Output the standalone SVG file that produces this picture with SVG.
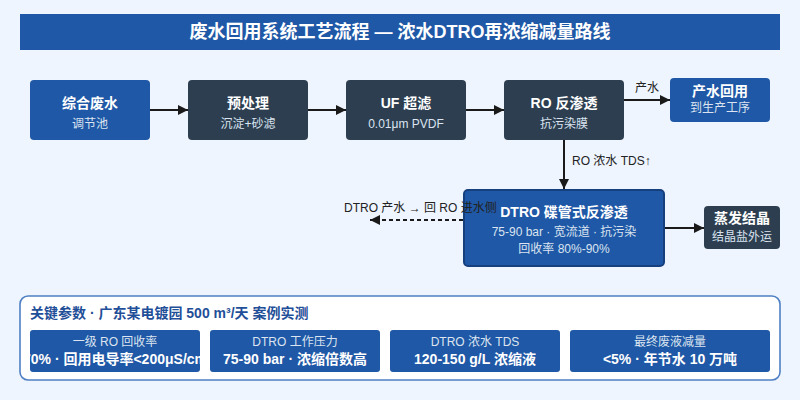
<svg xmlns="http://www.w3.org/2000/svg" width="800" height="400" viewBox="0 0 800 400">
<defs>
<style>
text{font-family:"Liberation Sans","Noto Sans CJK SC",sans-serif}
.blue{fill:#1f58a6}
.dark{fill:#2c3e50}
.t{fill:#fff;font-weight:bold;font-size:14px;text-anchor:middle}
.s{fill:#dbe4f0;font-size:12px;text-anchor:middle}
.lbl{fill:#222;font-size:12px}
.edge{stroke:#1a1a1a;stroke-width:2;fill:none}
</style>
<marker id="ah" viewBox="0 0 10 10" refX="10" refY="5" markerWidth="10" markerHeight="11" markerUnits="userSpaceOnUse" orient="auto">
<path d="M0,0 L10,5 L0,10 Z" fill="#1a1a1a"/>
</marker>
<clipPath id="c1"><rect x="30" y="330" width="170" height="42" rx="3"/></clipPath>
</defs>
<rect width="800" height="400" fill="#eef5fe"/>
<g id="title">
<rect x="20" y="14" width="760" height="36" fill="#1f58a6"/>
<text x="400" y="38" fill="#fff" font-size="18" font-weight="bold" text-anchor="middle">废水回用系统工艺流程 — 浓水DTRO再浓缩减量路线</text>
</g>
<g id="connectors">
<line class="edge" x1="150" y1="110" x2="188" y2="110" marker-end="url(#ah)"/>
<line class="edge" x1="308" y1="110" x2="346" y2="110" marker-end="url(#ah)"/>
<line class="edge" x1="466" y1="110" x2="504" y2="110" marker-end="url(#ah)"/>
<line class="edge" x1="624" y1="100" x2="670" y2="100" marker-end="url(#ah)"/>
<text class="lbl" x="635" y="92">产水</text>
<line class="edge" x1="564" y1="140" x2="564" y2="189" marker-end="url(#ah)"/>
<text class="lbl" x="572" y="165">RO 浓水 TDS↑</text>
<line class="edge" x1="463" y1="220" x2="370" y2="220" stroke-dasharray="4 3" marker-end="url(#ah)"/>
<line class="edge" x1="665" y1="228" x2="704" y2="228" marker-end="url(#ah)"/>
</g>
<g id="n1">
<rect class="blue" x="30" y="80" width="120" height="60" rx="4"/>
<text class="t" x="90" y="108">综合废水</text>
<text class="s" x="90" y="128">调节池</text>
</g>
<g id="n2">
<rect class="dark" x="188" y="80" width="120" height="60" rx="4"/>
<text class="t" x="248" y="108">预处理</text>
<text class="s" x="248" y="128">沉淀+砂滤</text>
</g>
<g id="n3">
<rect class="dark" x="346" y="80" width="120" height="60" rx="4"/>
<text class="t" x="406" y="108">UF 超滤</text>
<text class="s" x="406" y="128">0.01μm PVDF</text>
</g>
<g id="n4">
<rect class="dark" x="504" y="80" width="120" height="60" rx="4"/>
<text class="t" x="564" y="108">RO 反渗透</text>
<text class="s" x="564" y="128">抗污染膜</text>
</g>
<g id="n5">
<rect class="blue" x="670" y="78" width="100" height="44" rx="4"/>
<text class="t" x="720" y="96">产水回用</text>
<text class="s" x="720" y="112">到生产工序</text>
</g>
<g id="n6">
<rect class="blue" x="464" y="190" width="200" height="76" rx="4" stroke="#163f7e" stroke-width="2"/>
<text class="t" x="564" y="217" font-size="15">DTRO 碟管式反渗透</text>
<text class="s" x="564" y="236">75-90 bar · 宽流道 · 抗污染</text>
<text class="s" x="564" y="253">回收率 80%-90%</text>
</g>
<text class="lbl" x="344" y="212">DTRO 产水 → 回 RO 进水侧</text>
<g id="n7">
<rect class="dark" x="704" y="206" width="76" height="43" rx="4"/>
<text class="t" x="742" y="223" font-size="13">蒸发结晶</text>
<text class="s" x="742" y="241" font-size="11">结晶盐外运</text>
</g>
<g id="params">
<rect x="20" y="296" width="760" height="84" rx="8" fill="#fff" stroke="#4f80c4" stroke-width="1.6"/>
<text x="30" y="318" fill="#1f4f98" font-size="14" font-weight="bold">关键参数 · 广东某电镀园 500 m³/天 案例实测</text>
<g id="p1">
<rect class="blue" x="30" y="330" width="170" height="42" rx="3"/>
<text class="s" x="115" y="346">一级 RO 回收率</text>
<text class="t" x="115" y="364" clip-path="url(#c1)">70% · 回用电导率&lt;200μS/cm</text>
</g>
<g id="p2">
<rect class="blue" x="210" y="330" width="170" height="42" rx="3"/>
<text class="s" x="295" y="346">DTRO 工作压力</text>
<text class="t" x="295" y="364">75-90 bar · 浓缩倍数高</text>
</g>
<g id="p3">
<rect class="blue" x="390" y="330" width="170" height="42" rx="3"/>
<text class="s" x="475" y="346">DTRO 浓水 TDS</text>
<text class="t" x="475" y="364">120-150 g/L 浓缩液</text>
</g>
<g id="p4">
<rect class="blue" x="570" y="330" width="200" height="42" rx="3"/>
<text class="s" x="670" y="346">最终废液减量</text>
<text class="t" x="670" y="364">&lt;5% · 年节水 10 万吨</text>
</g>
</g>
</svg>
